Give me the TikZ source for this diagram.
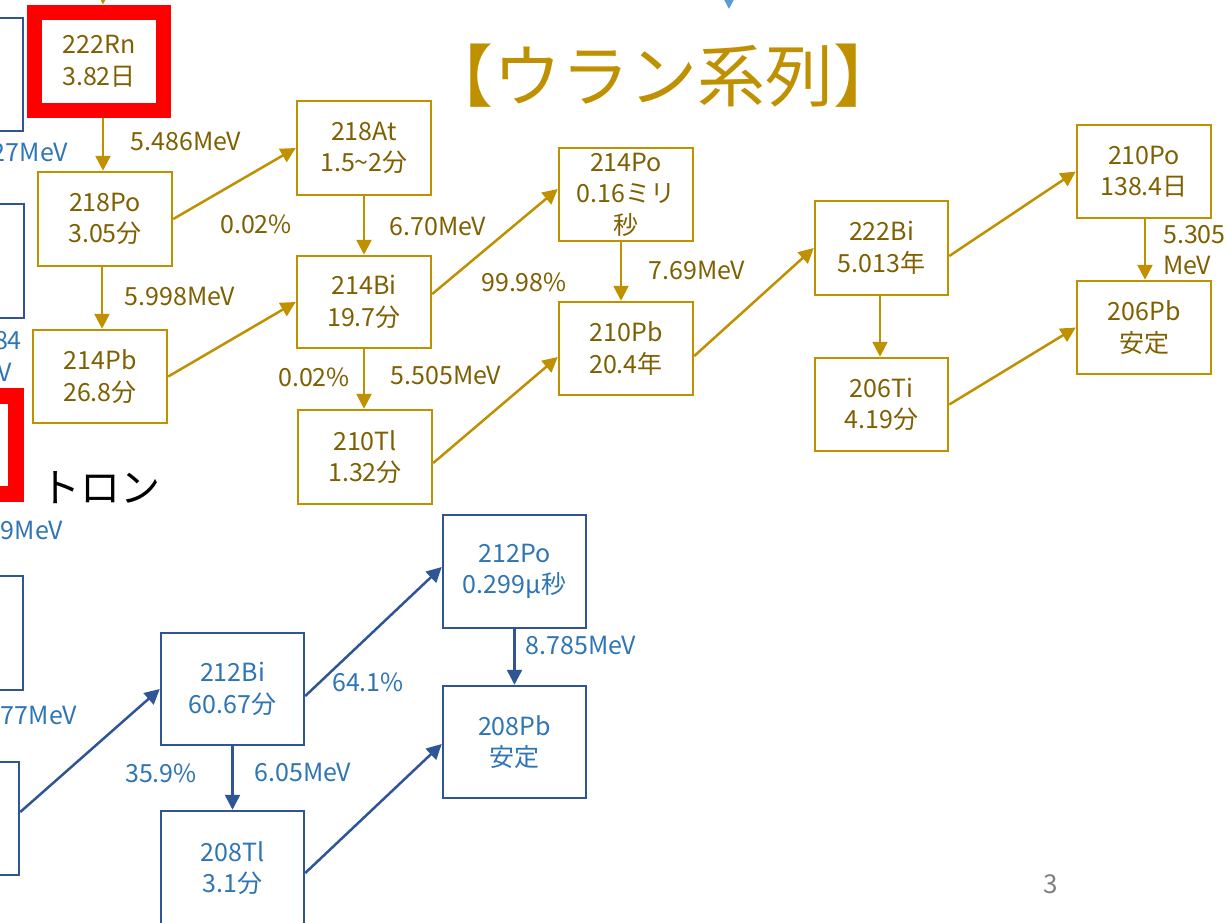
\documentclass[tikz,border=0pt]{standalone}
\usepackage{fontspec}
\setmainfont{Noto Sans CJK JP}
\usetikzlibrary{arrows.meta,calc}
\definecolor{gold}{HTML}{BF9000}
\definecolor{goldtxt}{HTML}{7F6000}
\definecolor{bline}{HTML}{2F5597}
\definecolor{btxt}{HTML}{2E75B6}
\definecolor{lblue}{HTML}{5B9BD5}
\definecolor{pgray}{HTML}{7F7F7F}
\newcommand\nboxfont{\fontsize{25}{31.5}\selectfont}
\begin{document}
\begin{tikzpicture}[x=1pt,y=-1pt,
  gbox/.style={draw=gold, line width=2.5pt, text=goldtxt, minimum width=134pt, minimum height=94pt, inner sep=0pt, align=center, font=\nboxfont},
  bbox/.style={draw=bline, line width=2.5pt, text=btxt, minimum width=143pt, minimum height=113pt, inner sep=0pt, align=center, font=\nboxfont},
  rbox/.style={draw=red, line width=15pt, fill=white, text=goldtxt, inner sep=0pt, align=center, font=\nboxfont},
  glab/.style={text=goldtxt, inner sep=0pt, font=\nboxfont, align=left},
  blab/.style={text=btxt, inner sep=0pt, font=\nboxfont, align=left},
  garrow/.style={draw=gold, line width=2.5pt, -{Triangle[length=15pt,width=15pt]}},
  barrow/.style={draw=bline, line width=2.5pt, -{Triangle[length=15pt,width=15pt]}},
  lbarrow/.style={draw=lblue, line width=2.5pt, -{Triangle[length=15pt,width=15pt]}}
]
\useasboundingbox (0,0) rectangle (1229,922);
\clip (0,0) rectangle (1229,922);
\fill[white] (0,0) rectangle (1229,922);

% title
\node[text=gold, inner sep=0pt, font=\fontsize{68}{76}\selectfont] (title) at (663,76) {【ウラン系列】};

% left partial blue boxes and red box
\node[bbox, minimum height=113pt] (la) at (-48.5,74.5) {};
\node[bbox, minimum height=114pt] (lb) at (-47.5,261) {};
\node[draw=red, line width=16pt, minimum width=128pt, minimum height=98pt, inner sep=0pt] (lr) at (-48,445) {};
\node[bbox, minimum height=114pt] (lc) at (-48.5,633) {};
\node[bbox, minimum height=113pt] (ld) at (-52.5,818.5) {};

\node[blab, anchor=east] (t27) at (68,152) {27MeV};
\node[blab, anchor=east] (t84) at (22,341) {84};
\node[blab, anchor=east] (tv) at (12,372) {V};
\node[blab, anchor=east] (t9) at (63,530) {9MeV};
\node[blab, anchor=east] (t77) at (77,715) {77MeV};
\node[inner sep=0pt, font=\fontsize{40}{44}\selectfont] (thoron) at (100,488) {トロン};

% uranium series boxes
\node[rbox, minimum width=129pt, minimum height=98pt] (rn) at (99,61) {222Rn\\3.82日};
\node[gbox] (po218) at (105,219) {218Po\\3.05分};
\node[gbox, minimum height=93pt] (pb214) at (100,376.5) {214Pb\\26.8分};
\node[gbox] (at218) at (364,148) {218At\\1.5\char"7E 2分};
\node[gbox, minimum height=92pt] (bi214) at (364,302) {214Bi\\19.7分};
\node[gbox] (tl210) at (365,457) {210Tl\\1.32分};
\node[gbox, minimum height=93pt] (po214) at (626,194.5) {214Po\\0.16ミリ\\秒};
\node[gbox, minimum height=93pt] (pb210) at (626,348.5) {210Pb\\20.4年};
\node[gbox, minimum width=133pt] (bi222) at (881.5,248) {222Bi\\5.013年};
\node[gbox, minimum width=133pt, minimum height=93pt] (ti206) at (881.5,404.5) {206Ti\\4.19分};
\node[gbox, minimum height=93pt] (po210) at (1144,171.5) {210Po\\138.4日};
\node[gbox, minimum height=93pt] (pb206) at (1144,327.5) {206Pb\\安定};

% thorium series boxes
\node[bbox] (po212) at (514.5,571.5) {212Po\\0.299μ秒};
\node[bbox, minimum height=112pt] (pb208) at (514.5,742) {208Pb\\安定};
\node[bbox, minimum height=112pt] (bi212) at (232.5,689) {212Bi\\60.67分};
\node[bbox, minimum height=114pt] (tl208) at (232.5,868) {208Tl\\3.1分};

% top partial arrows
\coordinate (tg) at (103,-40);
\draw[garrow] (tg) -- (tg |- rn.north);
\coordinate (tb) at (729,-40);
\coordinate (tbe) at (729,9);
\draw[lbarrow] (tb) -- (tbe);

% gold arrows
\draw[garrow] ([xshift=4pt]rn.south) -- ([xshift=4pt]rn.south |- po218.north);
\draw[garrow] ([xshift=-3pt]po218.south) -- ([xshift=-3pt]po218.south |- pb214.north);
\draw[garrow] (po218.east) -- (at218.west);
\draw[garrow] (pb214.east) -- (bi214.west);
\draw[garrow] (at218.south) -- (bi214.north);
\draw[garrow] (bi214.south) -- (bi214.south |- tl210.north);
\draw[garrow] ([yshift=8pt]bi214.east) -- ([yshift=5.5pt]po214.west);
\draw[garrow] ([yshift=-6pt]tl210.east) -- ([yshift=-8.5pt]pb210.west);
\draw[garrow] ([xshift=-5pt]po214.south) -- ([xshift=-5pt]po214.south |- pb210.north);
\draw[garrow] ([yshift=-7.5pt]pb210.east) -- (bi222.west);
\draw[garrow] ([xshift=-1.5pt]bi222.south) -- ([xshift=-1.5pt]bi222.south |- ti206.north);
\draw[garrow] ([yshift=-8pt]bi222.east) -- (po210.west);
\draw[garrow] (ti206.east) -- (pb206.west);
\draw[garrow] ([xshift=1pt]po210.south) -- ([xshift=1pt]po210.south |- pb206.north);

% gold labels
\node[glab] (l1) at (186,141) {5.486MeV};
\node[glab] (l2) at (256,224) {0.02\%};
\node[glab] (l3) at (180,296) {5.998MeV};
\node[glab] (l4) at (438,226) {6.70MeV};
\node[glab] (l5) at (524,282) {99.98\%};
\node[glab] (l6) at (314,377) {0.02\%};
\node[glab] (l7) at (446,375) {5.505MeV};
\node[glab] (l8) at (697,270) {7.69MeV};
\node[glab, anchor=west] (l9) at (1163,250) {5.305\\MeV};

% blue arrows
\draw[barrow] ([yshift=6.5pt]ld.east) -- (bi212.west);
\draw[barrow] ([yshift=-7pt]bi212.east) -- ([yshift=4.5pt]po212.west);
\draw[barrow] ([yshift=-5pt]tl208.east) -- ([yshift=-2pt]pb208.west);
\draw[barrow] (bi212.south) -- (bi212.south |- tl208.north);
\draw[barrow] (po212.south) -- (po212.south |- pb208.north);

% blue labels
\node[blab] (b1) at (581,645) {8.785MeV};
\node[blab] (b2) at (368,682) {64.1\%};
\node[blab] (b3) at (161,773) {35.9\%};
\node[blab] (b4) at (303,772) {6.05MeV};

% page number
\node[text=pgray, inner sep=0pt, font=\fontsize{26}{30}\selectfont] (pn) at (1051,884) {3};
\end{tikzpicture}
\end{document}
